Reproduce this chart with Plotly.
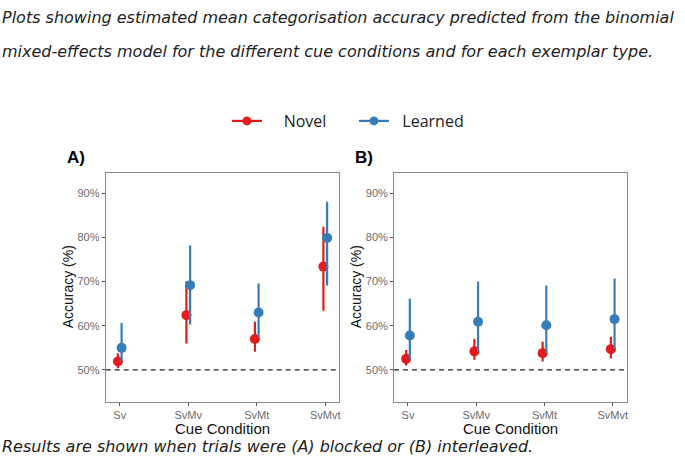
import plotly.graph_objects as go

# ---- data ----
conditions = ["Sv", "SvMv", "SvMt", "SvMvt"]
series_names = ["Novel", "Learned"]

# Panel A (blocked)
a_novel_mean = [51.9, 62.4, 57.0, 73.4]
a_novel_low = [50.4, 56.0, 54.1, 63.4]
a_novel_high = [53.8, 70.0, 60.9, 82.4]
a_learned_mean = [55.0, 69.2, 63.0, 79.9]
a_learned_low = [52.0, 60.3, 57.5, 69.1]
a_learned_high = [60.6, 78.2, 69.6, 88.1]

# Panel B (interleaved)
b_novel_mean = [52.5, 54.2, 53.8, 54.7]
b_novel_low = [51.0, 52.3, 51.9, 52.6]
b_novel_high = [54.5, 57.0, 56.4, 57.5]
b_learned_mean = [57.8, 60.9, 60.1, 61.5]
b_learned_low = [52.3, 54.1, 53.8, 54.7]
b_learned_high = [66.1, 70.0, 69.1, 70.7]

y_ticks = [50, 60, 70, 80, 90]
chance_level = 50

# ---- style ----
RED = "#E41A1C"
BLUE = "#377EB8"
colors = {"Novel": RED, "Learned": BLUE}
legend_pad = {"Novel": 4, "Learned": 2}
dodge = {"Novel": -0.027, "Learned": 0.027}
FONT = "Liberation Sans, Arial, sans-serif"
CAPFONT = "DejaVu Sans, sans-serif"
NBSP = "\u00a0"

fig = go.Figure()

panels = [
    ("x", "y", {"Novel": (a_novel_mean, a_novel_low, a_novel_high),
                "Learned": (a_learned_mean, a_learned_low, a_learned_high)}),
    ("x2", "y2", {"Novel": (b_novel_mean, b_novel_low, b_novel_high),
                  "Learned": (b_learned_mean, b_learned_low, b_learned_high)}),
]

for xa, ya, data in panels:
    for name in series_names:
        mean, low, high = data[name]
        xs = [i + 1 + dodge[name] for i in range(len(conditions))]
        fig.add_trace(go.Scatter(
            x=xs, y=mean, xaxis=xa, yaxis=ya, mode="markers",
            marker=dict(color=colors[name], size=10),
            error_y=dict(type="data", symmetric=False,
                         array=[h - m for h, m in zip(high, mean)],
                         arrayminus=[m - l for m, l in zip(mean, low)],
                         color=colors[name], thickness=2.2, width=0),
            showlegend=False, hoverinfo="skip",
        ))

# legend entries (pointrange glyph)
for name in series_names:
    fig.add_trace(go.Scatter(
        x=[None], y=[None], mode="lines+markers", name=NBSP * legend_pad[name] + name,
        line=dict(color=colors[name], width=2.2),
        marker=dict(color=colors[name], size=9),
    ))

xdom_a = [105.7 / 685, 339.3 / 685]
xdom_b = [394.0 / 685, 626.7 / 685]
ydom = [1 - 401.7 / 459, 1 - 173 / 459]

axis_common = dict(showgrid=False, zeroline=False, showline=True, mirror=True,
                   linecolor="#8a8a8a", linewidth=1, ticks="outside", ticklen=3,
                   tickcolor="#555", tickfont=dict(family=FONT, size=11, color="#6b6b6b"))

for key, dom in (("xaxis", xdom_a), ("xaxis2", xdom_b)):
    anchor = "y" if key == "xaxis" else "y2"
    fig.layout[key] = dict(domain=dom, anchor=anchor, range=[0.795, 4.205],
                           tickvals=[1, 2, 3, 4], ticktext=conditions, **axis_common)
for key, anchor in (("yaxis", "x"), ("yaxis2", "x2")):
    fig.layout[key] = dict(domain=ydom, anchor=anchor, range=[42.8, 94.6],
                           tickvals=y_ticks, ticktext=[f"{v}%" for v in y_ticks], **axis_common)

for xr, yr in (("x", "y"), ("x2", "y2")):
    fig.add_shape(type="line", xref=f"{xr} domain", x0=0, x1=1, yref=yr,
                  y0=chance_level, y1=chance_level,
                  line=dict(color="#222", width=1.3, dash="5px,4px"), layer="below")

# axis titles
ymid = (ydom[0] + ydom[1]) / 2
for dom, ytx in ((xdom_a, 68), (xdom_b, 356)):
    fig.add_annotation(text="Cue Condition", xref="paper", yref="paper",
                       x=(dom[0] + dom[1]) / 2, y=1 - 428 / 459, xanchor="center", yanchor="middle",
                       showarrow=False, font=dict(family=FONT, size=15, color="#111"))
    fig.add_annotation(text="Accuracy (%)", xref="paper", yref="paper", textangle=-90,
                       x=ytx / 685, y=ymid, xanchor="center", yanchor="middle",
                       showarrow=False, font=dict(family=FONT, size=14, color="#111"))

annotations = [
    dict(text="Plots showing estimated mean categorisation accuracy predicted from the binomial",
         x=0, y=1 - 18 / 459),
    dict(text="mixed-effects model for the different cue conditions and for each exemplar type.",
         x=0, y=1 - 52 / 459),
    dict(text="Results are shown when trials were (A) blocked or (B) interleaved.",
         x=0, y=1 - 446 / 459),
]
for a in annotations:
    fig.add_annotation(text=f"<i>{a['text']}</i>", xref="paper", yref="paper", x=a["x"], y=a["y"],
                       xanchor="left", yanchor="middle", showarrow=False,
                       font=dict(family=CAPFONT, size=16, color="#222"))

for lbl, xp in (("A)", 65), ("B)", 353)):
    fig.add_annotation(text=f"<b>{lbl}</b>", xref="paper", yref="paper", x=xp / 685, y=1 - 157 / 459,
                       xanchor="left", yanchor="middle", showarrow=False,
                       font=dict(family=FONT, size=17, color="#000"))

fig.update_layout(
    width=685, height=459, margin=dict(l=0, r=0, t=0, b=0),
    paper_bgcolor="white", plot_bgcolor="white",
    legend=dict(orientation="h", x=227 / 685, y=1 - 121 / 459, xanchor="left", yanchor="middle",
                font=dict(family="Open Sans, sans-serif", size=16, color="#222"),
                itemwidth=30, entrywidth=82, entrywidthmode="pixels",
                bgcolor="rgba(0,0,0,0)"),
)

fig.write_html("out.html")
